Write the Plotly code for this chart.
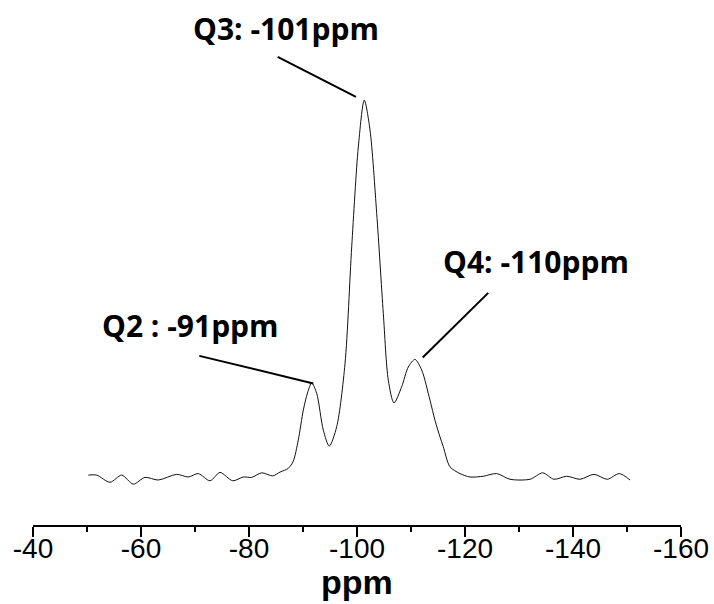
import plotly.graph_objects as go

# Spectrum (chemical shift in ppm, relative intensity)
ppm = [-50.24, -51.80, -54.26, -56.43, -58.57, -60.74, -63.20, -66.61, -68.76, -70.61,
       -72.78, -74.63, -76.98, -78.94, -80.50, -82.35, -84.39, -85.74, -87.28, -88.20,
       -89.13, -90.06, -90.83, -91.61, -92.54, -93.76, -94.87, -96.24, -97.78, -99.02,
       -100.24, -101.35, -102.41, -103.65, -104.87, -105.80, -106.85, -108.28, -109.50,
       -110.74, -111.98, -113.52, -114.44, -115.37, -115.98, -117.22, -119.07, -120.93,
       -123.39, -125.87, -128.33, -132.04, -134.39, -136.48, -138.83, -141.30, -143.89,
       -146.35, -148.57, -150.56]
intensity = [0.8, 0.8, -1.1, 0.8, -1.6, 0.2, -0.5, 1.0, 0.3, 1.2,
             -0.7, 1.5, -0.7, 0.3, 0.2, 1.4, 0.6, 1.6, 2.6, 4.5,
             10.1, 18.0, 22.5, 25.2, 22.4, 12.7, 8.5, 13.6, 30.3, 61.2,
             87.6, 100.0, 92.1, 70.0, 43.6, 25.9, 19.9, 24.2, 29.4,
             31.4, 28.6, 20.6, 15.3, 10.9, 8.3, 3.0, 1.2, 0.3,
             0.5, 1.2, -0.3, -0.3, 1.4, -0.3, 0.5, -0.3, 1.0,
             -0.3, 1.2, -0.5]

# Peak labels
label_text = ["Q3: -101ppm", "Q2 : -91ppm", "Q4: -110ppm"]
label_x = [-86.94, -69.17, -133.15]
label_y = [118.9, 40.3, 57.4]
# leader lines: start (near label) -> end (near peak)
lead_x0 = [-85.31, -70.80, -124.31]
lead_y0 = [111.46, 32.35, 49.02]
lead_x1 = [-99.81, -91.91, -112.17]
lead_y1 = [100.87, 25.05, 31.93]

x_ticks = [-40, -60, -80, -100, -120, -140, -160]
x_title = "ppm"

fig = go.Figure()
fig.add_trace(go.Scatter(
    x=ppm, y=intensity, mode="lines",
    line=dict(color="#111111", width=1, shape="spline", smoothing=0.8),
    hoverinfo="skip", showlegend=False,
))

for t, x, y in zip(label_text, label_x, label_y):
    fig.add_annotation(x=x, y=y, xref="x", yref="y", text=t, showarrow=False,
                       xanchor="center", yanchor="middle",
                       font=dict(family="Open Sans", size=30, color="black", weight="bold"))

for x0, y0, x1, y1 in zip(lead_x0, lead_y0, lead_x1, lead_y1):
    fig.add_shape(type="line", xref="x", yref="y", x0=x0, y0=y0, x1=x1, y1=y1,
                  line=dict(color="black", width=2))

# axis title as a paper-positioned annotation
fig.add_annotation(x=0.5, y=-0.113, xref="paper", yref="paper", text="<b>%s</b>" % x_title,
                   showarrow=False, xanchor="center", yanchor="middle",
                   font=dict(family="Liberation Sans, Arial", size=34, color="black"))

fig.update_layout(
    width=714, height=604,
    margin=dict(l=33, r=33, t=20, b=79, autoexpand=False),
    paper_bgcolor="white", plot_bgcolor="white",
    showlegend=False,
)
fig.update_xaxes(
    range=[-40, -160], tickvals=x_ticks, ticktext=[str(v) for v in x_ticks],
    automargin=False,
    showline=True, linecolor="black", linewidth=1.5,
    ticks="outside", ticklen=10, tickwidth=1.5, tickcolor="black",
    minor=dict(ticks="outside", ticklen=5, tickwidth=1.5, tickcolor="black", dtick=10,
               showgrid=False),
    showgrid=False, zeroline=False,
    ticklabelstandoff=-12,
    tickfont=dict(family="Liberation Sans, Arial", size=28, color="black"),
)
fig.update_yaxes(range=[-12.4, 121.2], visible=False, showgrid=False, zeroline=False)

fig.write_html("out.html")
